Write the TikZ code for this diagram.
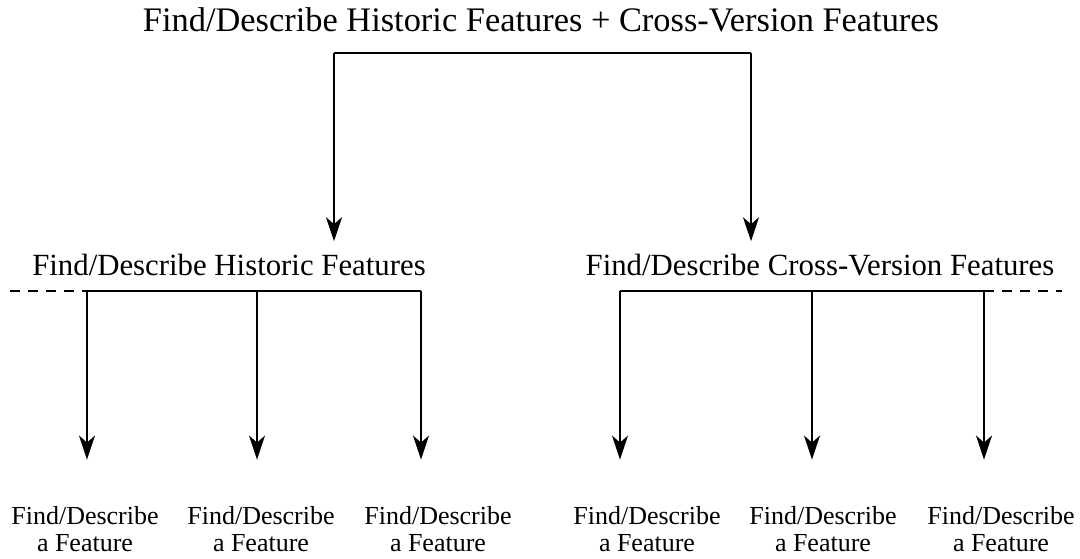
\documentclass[tikz,border=0pt]{standalone}
\usepackage{fontspec}
\setmainfont{Liberation Serif}
\usetikzlibrary{arrows.meta,calc}
\tikzset{
  goal/.style={inner sep=0pt, font=\fontsize{17.2}{20}\selectfont},
  sub/.style={inner sep=0pt, font=\fontsize{15.4}{18}\selectfont},
  feat/.style={inner sep=0pt, align=center, font=\fontsize{13}{13.5}\selectfont},
  bar/.style={line width=1.1pt},
  more/.style={line width=1.1pt, dash pattern=on 5pt off 4pt},
  connect/.style={line width=1.1pt, -{Stealth[length=12pt, width=8pt, inset=3.5pt]}}
}

\begin{document}
\begin{tikzpicture}[x=0.5pt, y=-0.5pt]
  \useasboundingbox (0,0) rectangle (1080,558);

  \node[goal, anchor=base] (Top) at (541,31) {Find/Describe Historic Features + Cross-Version Features};

  \node[sub, anchor=base] (Hist) at (229,275) {Find/Describe Historic Features};
  \node[sub, anchor=base] (Cross) at (820,275) {Find/Describe Cross-Version Features};

  \node[feat, anchor=base] (H1) at (85,551) {Find/Describe\\a Feature};
  \node[feat, anchor=base] (H2) at (261,551) {Find/Describe\\a Feature};
  \node[feat, anchor=base] (H3) at (438,551) {Find/Describe\\a Feature};
  \node[feat, anchor=base] (C1) at (647,551) {Find/Describe\\a Feature};
  \node[feat, anchor=base] (C2) at (823,551) {Find/Describe\\a Feature};
  \node[feat, anchor=base] (C3) at (1001,551) {Find/Describe\\a Feature};

  % top level split
  \coordinate (TopL) at (334,53);
  \coordinate (TopR) at (751,53);
  \draw[bar] (TopL) -- (TopR);
  \draw[connect] (TopL) -- ($(TopL |- Hist.north)+(0,-12)$);
  \draw[connect] (TopR) -- ($(TopR |- Cross.north)+(0,-12)$);

  % historic features
  \coordinate (HistL) at (87,291);
  \coordinate (HistM) at (257,291);
  \coordinate (HistR) at (421,291);
  \coordinate (HistMore) at (10,291);
  \draw[more] (HistMore) -- (HistL);
  \draw[bar] (HistL) -- (HistR);
  \draw[connect] (HistL) -- ($(HistL |- H1.north)+(0,-46)$);
  \draw[connect] (HistM) -- ($(HistM |- H2.north)+(0,-46)$);
  \draw[connect] (HistR) -- ($(HistR |- H3.north)+(0,-46)$);

  % cross-version features
  \coordinate (CrossL) at (620,291);
  \coordinate (CrossM) at (812,291);
  \coordinate (CrossR) at (984,291);
  \coordinate (CrossMore) at (1062,291);
  \draw[bar] (CrossL) -- (CrossR);
  \draw[more] (CrossR) -- (CrossMore);
  \draw[connect] (CrossL) -- ($(CrossL |- C1.north)+(0,-46)$);
  \draw[connect] (CrossM) -- ($(CrossM |- C2.north)+(0,-46)$);
  \draw[connect] (CrossR) -- ($(CrossR |- C3.north)+(0,-46)$);
\end{tikzpicture}
\end{document}
